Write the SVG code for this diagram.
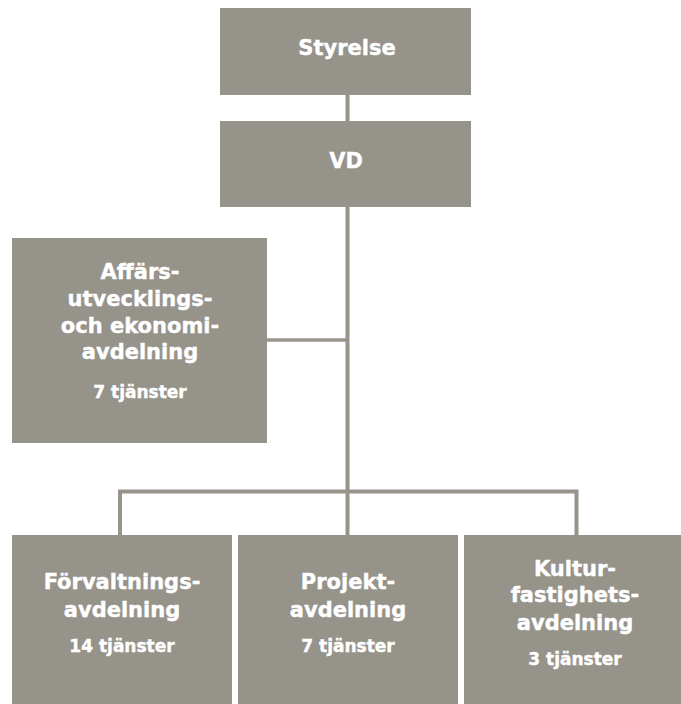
<svg xmlns="http://www.w3.org/2000/svg" width="681" height="704" viewBox="0 0 681 704">
<style>
.box{fill:#96938b;}
.t{font-family:"DejaVu Sans","Liberation Sans",sans-serif;font-weight:bold;fill:#ffffff;stroke:#ffffff;stroke-width:0.4;text-anchor:middle;font-size:21px;}
.s{font-size:17px;}
.c{stroke:#98948c;stroke-width:4;fill:none;}
</style>
<rect width="681" height="704" fill="#ffffff"/>
<g id="connectors">
<line class="c" x1="347.5" y1="95" x2="347.5" y2="121"/>
<line class="c" x1="347.5" y1="207" x2="347.5" y2="491.5"/>
<line class="c" x1="267" y1="340" x2="347.5" y2="340" style="stroke-width:3.5"/>
<polyline class="c" points="120,535 120,491.5 576.5,491.5 576.5,535"/>
<line class="c" x1="347.5" y1="491.5" x2="347.5" y2="535"/>
</g>
<g id="styrelse">
<rect class="box" x="220" y="8" width="251" height="87"/>
<text class="t" x="347" y="55">Styrelse</text>
</g>
<g id="vd">
<rect class="box" x="220" y="121" width="251" height="86"/>
<text class="t" x="346" y="168">VD</text>
</g>
<g id="affars">
<rect class="box" x="12" y="238" width="255" height="205"/>
<text class="t" x="140" y="279">Affärs-</text>
<text class="t" x="140" y="306">utvecklings-</text>
<text class="t" x="140" y="333">och ekonomi-</text>
<text class="t" x="140" y="359">avdelning</text>
<text class="t s" x="140" y="398">7 tjänster</text>
</g>
<g id="forvaltning">
<rect class="box" x="12" y="535" width="220" height="169"/>
<text class="t" x="122" y="589">Förvaltnings-</text>
<text class="t" x="122" y="617">avdelning</text>
<text class="t s" x="122" y="652">14 tjänster</text>
</g>
<g id="projekt">
<rect class="box" x="238" y="535" width="220" height="169"/>
<text class="t" x="348" y="589">Projekt-</text>
<text class="t" x="348" y="617">avdelning</text>
<text class="t s" x="348" y="652">7 tjänster</text>
</g>
<g id="kultur">
<rect class="box" x="464" y="535" width="220" height="169"/>
<text class="t" x="575" y="576">Kultur-</text>
<text class="t" x="575" y="602">fastighets-</text>
<text class="t" x="575" y="630">avdelning</text>
<text class="t s" x="575" y="665">3 tjänster</text>
</g>
</svg>
